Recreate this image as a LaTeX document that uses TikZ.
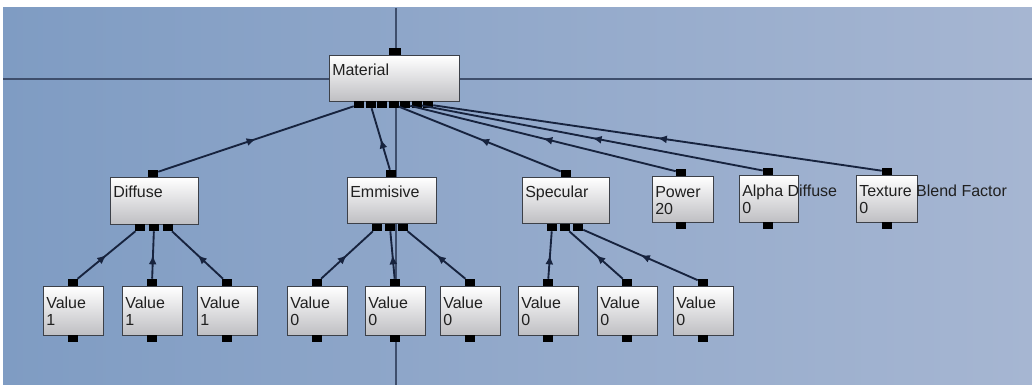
\documentclass[tikz,border=0pt]{standalone}
\usepackage{fontspec}
\setmainfont{Liberation Sans}
\usetikzlibrary{arrows.meta,decorations.markings}
\definecolor{bgleft}{HTML}{7F9CC3}
\definecolor{bgright}{HTML}{A6B6D2}
\definecolor{boxline}{HTML}{3C4048}
\definecolor{boxbot}{HTML}{BEBEC2}
\definecolor{linkcol}{HTML}{17233E}
\definecolor{crosscol}{HTML}{3E4E6C}
\definecolor{txtcol}{HTML}{202020}

\begin{document}
\begin{tikzpicture}[x=0.75pt, y=-0.75pt,
    box/.style={draw=boxline, line width=0.9pt, top color=white, bottom color=boxbot, anchor=north west, inner sep=0pt},
    port/.style={fill=black, inner sep=0pt, minimum width=7.5pt, minimum height=5.25pt},
    lbl/.style={anchor=north west, inner sep=0pt, align=left, text=txtcol, font=\fontsize{12}{12.75}\selectfont},
    link/.style={draw=linkcol, line width=1.4pt, postaction={decorate},
      decoration={markings, mark=at position .5 with {\arrow{Latex[length=7pt,width=6pt]}}}}]
        \fill[white] (0,0) rectangle (1032,385);
        \useasboundingbox (0,0) rectangle (1032,385);
        \shade[left color=bgleft, right color=bgright] (3,8) rectangle (1032,385);
        \draw[crosscol, line width=0.9pt] (396,8) -- (396,385);
        \draw[crosscol, line width=0.9pt] (3,79) -- (1032,79);

        \node[box, minimum width=97.5pt, minimum height=34.5pt] (mat) at (329,55) {};
        \node[lbl] (mat-t) at (332,64) {Material};
        \node[port, minimum width=9pt] (mat-in) at (395,51.5) {};
        \foreach \i in {1,...,7}
          \node[port] (mat-o\i) at ({347.5+11.5*\i},104.5) {};

        \node[box, minimum width=66pt, minimum height=35.25pt] (dif) at (110,177) {};
        \node[lbl] (dif-t) at (113,186) {Diffuse};
        \node[port] (dif-in) at (153,173.5) {};
        \foreach \i in {1,2,3}
          \node[port] (dif-o\i) at ({126+14*\i},227.5) {};

        \node[box, minimum width=66.75pt, minimum height=34.5pt] (emi) at (347,177) {};
        \node[lbl] (emi-t) at (350,186) {Emmisive};
        \node[port] (emi-in) at (391,173.5) {};
        \foreach \i in {1,2,3}
          \node[port] (emi-o\i) at ({364+13*\i},227.5) {};

        \node[box, minimum width=65.25pt, minimum height=34.5pt] (spe) at (522,177) {};
        \node[lbl] (spe-t) at (525,186) {Specular};
        \node[port] (spe-in) at (566,173.5) {};
        \foreach \i in {1,2,3}
          \node[port] (spe-o\i) at ({539+13*\i},227.5) {};

        \node[box, minimum width=45.75pt, minimum height=34.5pt] (pow) at (652,176) {};
        \node[lbl] (pow-t) at (655,186) {Power\\20};
        \node[port] (pow-in) at (681,172.5) {};
        \node[port] (pow-out) at (681,225.5) {};

        \node[box, minimum width=44.25pt, minimum height=35.25pt] (alp) at (739,175) {};
        \node[lbl] (alp-t) at (742,185) {Alpha Diffuse\\0};
        \node[port] (alp-in) at (768,171.5) {};
        \node[port] (alp-out) at (768,225.5) {};

        \node[box, minimum width=45.75pt, minimum height=35.25pt] (tex) at (856,175) {};
        \node[lbl] (tex-t) at (859,185) {Texture Blend Factor\\0};
        \node[port] (tex-in) at (887,171.5) {};
        \node[port] (tex-out) at (887,225.5) {};

        \foreach \n/\x/\v in {v1/43/1, v2/122/1, v3/197/1, v4/287/0, v5/365/0, v6/440/0, v7/518/0, v8/597/0, v9/673/0} {
          \node[box, minimum width=45pt, minimum height=36.75pt] (\n) at (\x,286) {};
          \node[port] (\n-in) at (\x+30,282.5) {};
          \node[port] (\n-out) at (\x+30,338.5) {};
          \node[lbl] (\n-t) at (\x+3,297) {Value\\\v};
        }

        \foreach \c/\p in {v1/dif-o1, v2/dif-o2, v3/dif-o3, v4/emi-o1, v5/emi-o2, v6/emi-o3,
            v7/spe-o1, v8/spe-o2, v9/spe-o3}
          \draw[link] (\c-in) -- (\p);
        \foreach \c/\p in {dif/mat-o1, emi/mat-o2, spe/mat-o4, pow/mat-o5, alp/mat-o6, tex/mat-o7}
          \draw[link] (\c-in) -- (\p);
      \end{tikzpicture}
\end{document}
